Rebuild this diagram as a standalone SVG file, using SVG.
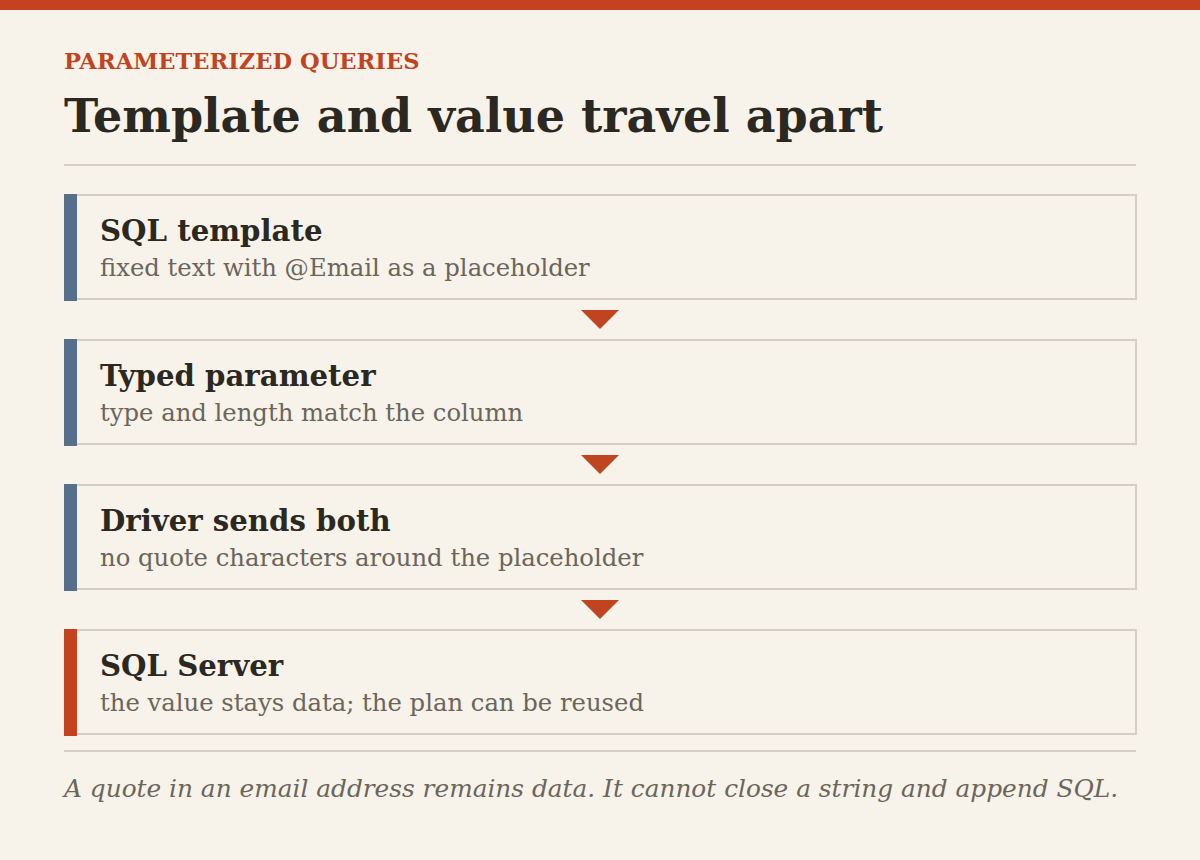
<svg xmlns="http://www.w3.org/2000/svg" width="1200" height="860" viewBox="0 0 1200 860">
<defs>
<style>
.bg{fill:#f7f3ea}
.eyebrow{font-family:"DejaVu Serif","Liberation Serif",serif;font-weight:bold;font-size:22.6px;fill:#c0441f}
.title{font-family:"DejaVu Serif","Liberation Serif",serif;font-weight:bold;font-size:46px;fill:#2b2822}
.rule{stroke:#d6cfc4;stroke-width:2}
.box{fill:#f7f3ea;stroke:#d5cec3;stroke-width:2}
.nt{font-family:"DejaVu Serif","Liberation Serif",serif;font-weight:bold;font-size:29.2px;fill:#2b2822}
.ns{font-family:"DejaVu Serif","Liberation Serif",serif;font-size:24.3px;fill:#6b655a}
.foot{font-family:"DejaVu Serif","Liberation Serif",serif;font-style:italic;font-size:24.8px;fill:#6b655a}
.arrow{fill:#c0441f}
</style>
</defs>
<rect class="bg" x="0" y="0" width="1200" height="860"/>
<rect x="0" y="0" width="1200" height="10" fill="#c4421f"/>
<text class="eyebrow" x="64" y="69">PARAMETERIZED QUERIES</text>
<text class="title" x="64" y="132">Template and value travel apart</text>
<line class="rule" x1="64" y1="165" x2="1136" y2="165"/>
<g id="connectors">
<polygon class="arrow" points="581,310 619,310 600,329"/>
<polygon class="arrow" points="581,455 619,455 600,474"/>
<polygon class="arrow" points="581,600 619,600 600,619"/>
</g>
<g id="node1">
<rect class="box" x="65" y="195" width="1071" height="104"/>
<rect x="64" y="194" width="13" height="107" fill="#56708c"/>
<text class="nt" x="100" y="241">SQL template</text>
<text class="ns" x="100" y="276">fixed text with @Email as a placeholder</text>
</g>
<g id="node2">
<rect class="box" x="65" y="340" width="1071" height="104"/>
<rect x="64" y="339" width="13" height="107" fill="#56708c"/>
<text class="nt" x="100" y="386">Typed parameter</text>
<text class="ns" x="100" y="421">type and length match the column</text>
</g>
<g id="node3">
<rect class="box" x="65" y="485" width="1071" height="104"/>
<rect x="64" y="484" width="13" height="107" fill="#56708c"/>
<text class="nt" x="100" y="531">Driver sends both</text>
<text class="ns" x="100" y="566">no quote characters around the placeholder</text>
</g>
<g id="node4">
<rect class="box" x="65" y="630" width="1071" height="104"/>
<rect x="64" y="629" width="13" height="107" fill="#c4421f"/>
<text class="nt" x="100" y="676">SQL Server</text>
<text class="ns" x="100" y="711">the value stays data; the plan can be reused</text>
</g>
<line class="rule" x1="64" y1="751" x2="1136" y2="751"/>
<text class="foot" x="64" y="797">A quote in an email address remains data. It cannot close a string and append SQL.</text>
</svg>
